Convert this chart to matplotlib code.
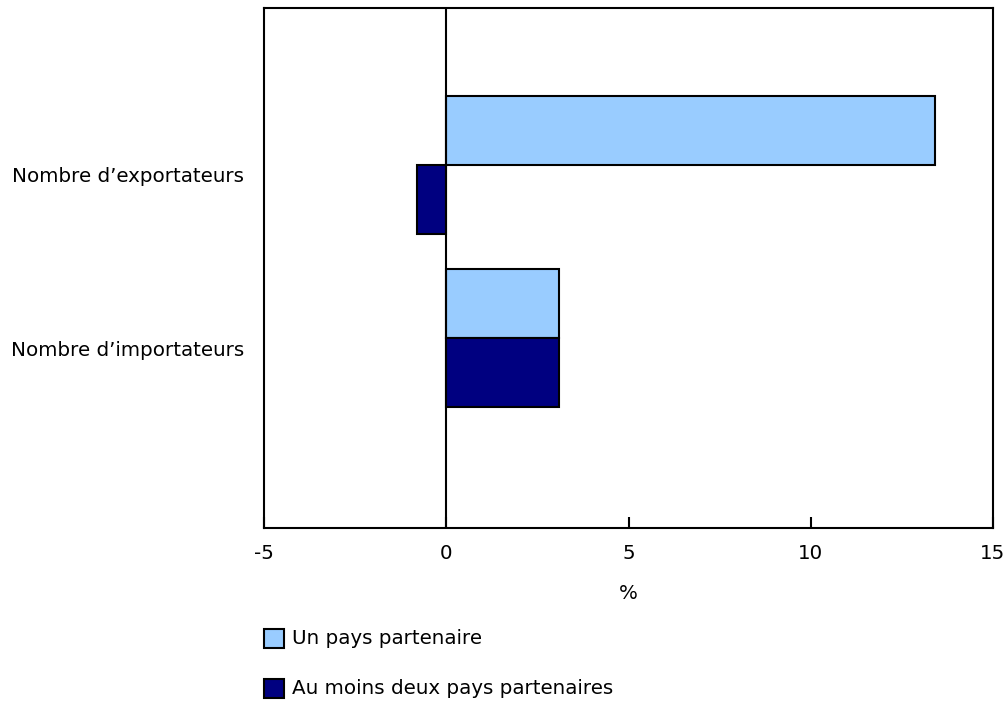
import numpy as np
import matplotlib
matplotlib.use("Agg")
import matplotlib.pyplot as plt
from matplotlib.patches import Rectangle

categories = ["Nombre d\u2019exportateurs", "Nombre d\u2019importateurs"]
series_names = ["Un pays partenaire", "Au moins deux pays partenaires"]
un_pays = [13.4, 3.1]
deux_pays = [-0.8, 3.1]
colors = ["#99CCFF", "#000080"]

plt.rcParams['font.family'] = ['DejaVu Sans']
plt.rcParams['font.size'] = 14.3

fig = plt.figure(figsize=(10.08, 7.01), dpi=100)
ax = fig.add_axes([264 / 1008, 1 - 528 / 701, 729 / 1008, 520 / 701])

y = np.arange(len(categories))
h = 0.4
ax.barh(y - h / 2, un_pays, height=h, color=colors[0], edgecolor="black", linewidth=1.5)
ax.barh(y + h / 2, deux_pays, height=h, color=colors[1], edgecolor="black", linewidth=1.5)

ax.axvline(0, color="black", linewidth=1.5, zorder=3)
ax.set_xlim(-5, 15)
ax.set_ylim(1 + 190 / 173, -157 / 173)
ax.set_xticks([-5, 0, 5, 10, 15])
ax.set_xticklabels(["-5", "0", "5", "10", "15"])
# labels sit a little below the middle of each bar pair
ax.set_yticks(y + 10 / 173)
ax.set_yticklabels(categories)
ax.tick_params(axis="x", direction="in", length=8, width=1.5, pad=11.5)
ax.tick_params(axis="y", length=0, pad=14.4)
for s in ax.spines.values():
    s.set_linewidth(1.5)
ax.set_xlabel("%", labelpad=15)

for i, name in enumerate(series_names):
    yy = 1 - (629 + 50 * i) / 701
    fig.patches.append(Rectangle((264 / 1008, yy - 19 / 701), 20 / 1008, 19 / 701,
                                 transform=fig.transFigure, facecolor=colors[i],
                                 edgecolor="black", linewidth=1.5))
    fig.text(292 / 1008, yy - 9.5 / 701, name, va="center", ha="left")

fig.savefig("out.png", dpi=100)
